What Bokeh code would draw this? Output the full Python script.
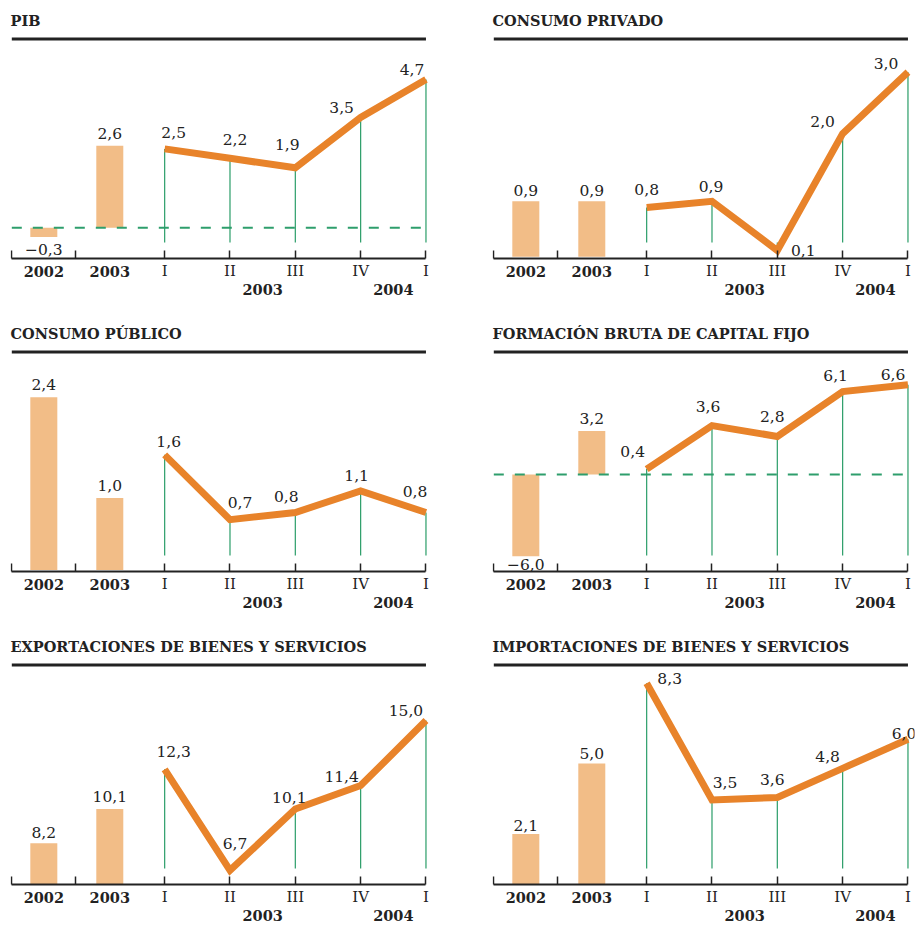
from bokeh.plotting import figure
from bokeh.models import ColumnDataSource, LinearAxis, FixedTicker, Range1d
from bokeh.layouts import column, row
from bokeh.core.properties import value
from bokeh.embed import file_html
from bokeh.resources import INLINE

# ---------------- data ----------------
years = ["2002", "2003"]
quarters = ["I", "II", "III", "IV", "I"]
quarter_years = ["2003", "2004"]

titles = ["PIB", "CONSUMO PRIVADO", "CONSUMO PÚBLICO",
          "FORMACIÓN BRUTA DE CAPITAL FIJO",
          "EXPORTACIONES DE BIENES Y SERVICIOS",
          "IMPORTACIONES DE BIENES Y SERVICIOS"]

pib_annual = [-0.3, 2.6]
pib_quarterly = [2.5, 2.2, 1.9, 3.5, 4.7]
cpriv_annual = [0.9, 0.9]
cpriv_quarterly = [0.8, 0.9, 0.1, 2.0, 3.0]
cpub_annual = [2.4, 1.0]
cpub_quarterly = [1.6, 0.7, 0.8, 1.1, 0.8]
fbcf_annual = [-6.0, 3.2]
fbcf_quarterly = [0.4, 3.6, 2.8, 6.1, 6.6]
exp_annual = [8.2, 10.1]
exp_quarterly = [12.3, 6.7, 10.1, 11.4, 15.0]
imp_annual = [2.1, 5.0]
imp_quarterly = [8.3, 3.5, 3.6, 4.8, 6.0]

# ---------------- style / layout ----------------
BAR_C = "#F2BD87"
LINE_C = "#E8832A"
STEM_C = "#2A9D68"
DASH_C = "#2E9E6C"
INK = "#222222"
FONT = "DejaVu Serif"

X0, X1 = -2.36, 4.1
FRAME_W = 422
PX_X = FRAME_W / (X1 - X0)
TOP = 34
AXIS_PX = 258
RULE_PX = 38.5
bar_x = [-1.85, -0.84]
quarter_x = [0, 1, 2, 3, 4]
edge_ticks = [-2.34, -1.36]
sub_x = [1.5, 3.5]


def fmt(v):
    s = f"{abs(v):.1f}".replace(".", ",")
    return ("\u2212" + s) if v < 0 else s


def panel(title, annual, quarterly, axis_val, scale, q_off, a_off,
          left_border, right_border, height):
    frame_h = height - TOP
    y_end = axis_val + (AXIS_PX - TOP) / scale
    y_start = axis_val - (height - AXIS_PX) / scale
    p = figure(frame_width=FRAME_W, frame_height=frame_h,
               x_range=Range1d(X0, X1), y_range=Range1d(y_start, y_end),
               x_axis_type=None, y_axis_type=None,
               toolbar_location=None, output_backend="svg",
               min_border_left=left_border, min_border_right=right_border,
               min_border_top=TOP, min_border_bottom=0,
               title=title)
    p.outline_line_color = None
    p.background_fill_color = "white"
    p.border_fill_color = "white"
    p.title.text_font = FONT
    p.title.text_font_style = "bold"
    p.title.text_font_size = "14.5px"
    p.title.text_color = INK
    p.title.align = "left"
    p.title.standoff = 11

    # rule under title
    rule_y = y_end - (RULE_PX - TOP) / scale
    p.segment(x0=[edge_ticks[0]], x1=[quarter_x[-1]], y0=[rule_y], y1=[rule_y],
              line_width=3, line_color=INK)

    # annual bars
    bar_bottom = max(0.0, axis_val)
    p.vbar(x=bar_x, top=annual, bottom=bar_bottom, width=27 / PX_X,
           fill_color=BAR_C, line_color=None)

    # zero line when negatives exist
    if min(annual + quarterly) < 0:
        p.segment(x0=[edge_ticks[0]], x1=[quarter_x[-1]], y0=[0], y1=[0],
                  line_width=2, line_color=DASH_C, line_dash="10 11")

    # stems
    stem_bottom = axis_val + 16 / scale
    p.segment(x0=quarter_x, x1=quarter_x, y0=[stem_bottom] * len(quarter_x),
              y1=quarterly, line_width=1.2, line_color=STEM_C)

    # quarterly line
    p.line(quarter_x, quarterly, line_width=7, line_color=LINE_C,
           line_join="miter", line_cap="butt")

    # value labels
    src_q = ColumnDataSource(dict(x=quarter_x, y=quarterly,
                                  t=[fmt(v) for v in quarterly],
                                  dx=[o[0] for o in q_off],
                                  dy=[o[1] for o in q_off]))
    src_a = ColumnDataSource(dict(x=bar_x, y=annual,
                                  t=[fmt(v) for v in annual],
                                  dx=[o[0] for o in a_off],
                                  dy=[o[1] for o in a_off]))
    for src in (src_q, src_a):
        p.text(x="x", y="y", text="t", x_offset="dx", y_offset="dy", source=src,
               text_align="center", text_baseline="middle",
               text_font=value(FONT), text_font_size="15.5px", text_color=INK)

    # axis with ticks and quarter labels
    ax = LinearAxis(fixed_location=axis_val, bounds=(edge_ticks[0], quarter_x[-1]),
                    ticker=FixedTicker(ticks=edge_ticks + quarter_x, minor_ticks=[]))
    ov = {t: "" for t in edge_ticks}
    ov.update({float(x): q for x, q in zip(quarter_x, quarters)})
    ax.major_label_overrides = ov
    ax.axis_line_width = 2
    ax.axis_line_color = INK
    ax.major_tick_in = 8
    ax.major_tick_out = 0
    ax.major_tick_line_width = 1.5
    ax.major_tick_line_color = INK
    ax.minor_tick_line_color = None
    ax.major_label_text_font = FONT
    ax.major_label_text_font_size = "15px"
    ax.major_label_text_color = INK
    ax.major_label_standoff = 3
    p.add_layout(ax, "below")

    # bold year labels under bars
    ay = LinearAxis(fixed_location=axis_val,
                    ticker=FixedTicker(ticks=bar_x, minor_ticks=[]))
    ay.major_label_overrides = {x: y for x, y in zip(bar_x, years)}
    ay.axis_line_color = None
    ay.major_tick_line_color = None
    ay.minor_tick_line_color = None
    ay.major_label_text_font = FONT
    ay.major_label_text_font_style = "bold"
    ay.major_label_text_font_size = "14.5px"
    ay.major_label_text_color = INK
    ay.major_label_standoff = 1
    p.add_layout(ay, "below")

    # bold years under the quarters
    asub = LinearAxis(fixed_location=axis_val,
                      ticker=FixedTicker(ticks=sub_x, minor_ticks=[]))
    asub.major_label_overrides = {x: y for x, y in zip(sub_x, quarter_years)}
    asub.axis_line_color = None
    asub.major_tick_line_color = None
    asub.minor_tick_line_color = None
    asub.major_label_text_font = FONT
    asub.major_label_text_font_style = "bold"
    asub.major_label_text_font_size = "14.5px"
    asub.major_label_text_color = INK
    asub.major_label_standoff = 19
    p.add_layout(asub, "below")
    return p


L = dict(left_border=10, right_border=50)
R = dict(left_border=10, right_border=2)

p1 = panel(titles[0], pib_annual, pib_quarterly, -0.98, 31.5,
           [(9, -16), (5, -19), (-8, -23), (-19, -10), (-14, -10)],
           [(0, 12), (0, -12)], height=313, **L)
p2 = panel(titles[1], cpriv_annual, cpriv_quarterly, -0.03, 61.5,
           [(0, -18), (-1, -15), (26, 0), (-20, -12), (-22, -9)],
           [(0, -11), (0, -11)], height=313, **R)
p3 = panel(titles[2], cpub_annual, cpub_quarterly, -0.02, 72,
           [(4, -13), (10, -17), (-9, -16), (-4, -15), (-11, -21)],
           [(0, -13), (0, -13)], height=313, **L)
p4 = panel(titles[3], fbcf_annual, fbcf_quarterly, -7.13, 13.6,
           [(-14, -18), (-4, -19), (-5, -20), (-7, -16), (-15, -10)],
           [(0, 8), (0, -13)], height=313, **R)
p5 = panel(titles[4], exp_annual, exp_quarterly, 5.92, 18.05,
           [(9, -18), (5, -27), (-6, -12), (-19, -9), (-20, -10)],
           [(0, -11), (0, -13)], height=299, **L)
p6 = panel(titles[5], imp_annual, imp_quarterly, 0.02, 24.3,
           [(23, -5), (13, -17), (-5, -18), (-15, -12), (-4, -6)],
           [(0, -8), (0, -10)], height=299, **R)

layout = column(row(p1, p2), row(p3, p4), row(p5, p6))

with open("out.html", "w") as f:
    f.write(file_html(layout, INLINE))
